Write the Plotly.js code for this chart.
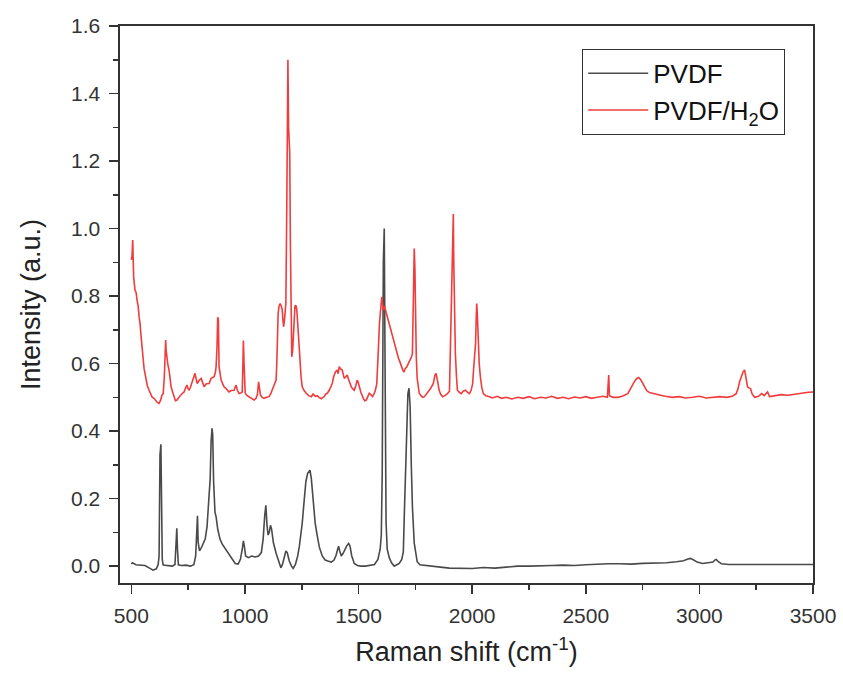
<!DOCTYPE html>
<html>
<head>
<meta charset="utf-8">
<script src="https://cdn.plot.ly/plotly-3.0.1.min.js"></script>
<style>html,body{margin:0;padding:0;background:#fff;}#chart{width:843px;height:675px;}</style>
</head>
<body>
<div id="chart"></div>
<script>
const pvdfX = [500,505,520,540,560,580,595,610,618,622,626,630,633,636,640,660,680,692,696,700,703,707,720,740,760,775,783,788,791,794,800,807,815,825,833,840,847,851,855,858,862,868,873,880,890,900,915,930,945,957,970,980,988,993,997,1003,1015,1030,1045,1060,1072,1080,1087,1092,1097,1102,1107,1112,1117,1125,1137,1150,1158,1165,1172,1180,1186,1195,1205,1212,1222,1232,1239,1246,1252,1260,1268,1276,1282,1286,1292,1300,1309,1318,1327,1340,1353,1365,1380,1392,1400,1408,1412,1417,1424,1432,1440,1448,1456,1462,1470,1481,1495,1510,1530,1550,1570,1585,1595,1600,1604,1609,1613,1617,1621,1626,1635,1645,1657,1668,1679,1690,1697,1701,1706,1712,1717,1722,1727,1732,1737,1745,1752,1758,1770,1790,1820,1860,1900,1950,2000,2050,2100,2150,2200,2250,2300,2350,2400,2450,2500,2550,2600,2650,2700,2750,2800,2855,2900,2930,2950,2960,2975,2990,3014,3040,3060,3068,3074,3082,3097,3130,3200,3300,3400,3500];
const pvdfY = [0.006,0.01,0.004,0.003,0.002,-0.006,-0.012,-0.008,0.005,0.03,0.33,0.361,0.2,0.02,0.003,0.002,0.0,0.005,0.09,0.112,0.05,0.004,0.002,0.003,0.0,0.004,0.03,0.14,0.149,0.07,0.045,0.053,0.065,0.08,0.116,0.19,0.26,0.37,0.408,0.39,0.25,0.16,0.146,0.11,0.08,0.065,0.05,0.038,0.02,0.008,0.006,0.02,0.05,0.075,0.06,0.03,0.025,0.03,0.027,0.03,0.04,0.08,0.15,0.18,0.12,0.092,0.10,0.121,0.11,0.07,0.038,0.01,-0.005,0.005,0.025,0.045,0.04,0.015,0.0,-0.007,0.005,0.03,0.057,0.09,0.127,0.19,0.25,0.275,0.283,0.284,0.26,0.19,0.127,0.09,0.057,0.03,0.018,0.015,0.012,0.018,0.03,0.05,0.059,0.045,0.03,0.038,0.05,0.06,0.067,0.06,0.03,0.008,0.002,0.0,0.0,0.002,0.005,0.02,0.05,0.092,0.27,0.9,1.0,0.55,0.13,0.05,0.025,0.01,0.0,0.004,0.008,0.02,0.042,0.145,0.284,0.45,0.51,0.527,0.47,0.3,0.176,0.068,0.03,0.013,0.004,0.002,0.001,-0.003,-0.006,-0.007,-0.007,-0.004,-0.006,-0.003,0.0,0.0,0.002,0.002,0.003,0.002,0.004,0.006,0.007,0.007,0.006,0.008,0.008,0.01,0.013,0.016,0.021,0.023,0.018,0.012,0.008,0.009,0.012,0.018,0.02,0.014,0.007,0.005,0.005,0.006,0.005,0.005];

const h2oX = [500,503,506,508,510,516,521,525,530,534,538,543,547,551,556,560,565,570,578,585,592,600,607,614,622,628,635,640,645,649,651,653,655,660,666,670,675,682,688,694,701,708,715,722,732,740,745,750,754,760,768,775,780,785,790,798,807,813,820,830,842,851,858,864,870,873,877,880,883,886,890,895,902,908,918,930,940,952,957,961,967,974,982,988,991,993,996,1001,1010,1018,1028,1040,1049,1055,1060,1063,1068,1076,1084,1095,1106,1113,1120,1128,1134,1137,1140,1142,1146,1150,1155,1160,1164,1167,1170,1174,1177,1180,1184,1189,1192,1197,1200,1203,1206,1210,1215,1220,1224,1228,1232,1236,1239,1243,1247,1252,1260,1270,1280,1292,1300,1310,1318,1326,1336,1343,1349,1356,1362,1371,1378,1384,1390,1398,1406,1410,1415,1420,1428,1433,1437,1443,1450,1455,1459,1468,1475,1481,1488,1494,1498,1503,1510,1521,1527,1534,1540,1547,1554,1561,1568,1574,1580,1583,1587,1592,1596,1599,1602,1606,1609,1614,1618,1622,1627,1633,1640,1645,1649,1655,1662,1667,1671,1676,1682,1689,1695,1700,1705,1712,1720,1728,1733,1737,1741,1745,1748,1750,1754,1758,1762,1767,1775,1782,1790,1800,1811,1820,1829,1836,1841,1847,1855,1862,1870,1880,1890,1900,1904,1909,1913,1917,1919,1922,1926,1931,1935,1943,1952,1960,1970,1980,1988,1995,2002,2006,2011,2015,2018,2020,2023,2027,2031,2036,2042,2049,2060,2076,2090,2110,2130,2150,2175,2200,2225,2250,2275,2300,2325,2350,2375,2400,2425,2450,2475,2500,2525,2550,2575,2595,2598,2601,2604,2620,2641,2660,2685,2701,2715,2725,2733,2742,2750,2758,2768,2780,2800,2824,2850,2880,2910,2940,2970,3000,3030,3058,3090,3120,3145,3162,3170,3177,3185,3192,3199,3205,3212,3218,3225,3232,3243,3260,3274,3285,3300,3309,3330,3360,3390,3420,3450,3480,3500];
const h2oY = [0.907,0.92,0.966,0.93,0.857,0.818,0.81,0.788,0.77,0.739,0.72,0.679,0.65,0.61,0.585,0.571,0.55,0.535,0.521,0.51,0.5,0.497,0.49,0.485,0.482,0.49,0.507,0.51,0.56,0.64,0.67,0.64,0.62,0.6,0.58,0.56,0.531,0.515,0.502,0.49,0.492,0.5,0.505,0.51,0.516,0.53,0.536,0.525,0.521,0.53,0.545,0.56,0.571,0.555,0.541,0.55,0.556,0.545,0.531,0.54,0.541,0.556,0.56,0.561,0.575,0.591,0.65,0.737,0.73,0.591,0.57,0.551,0.54,0.531,0.525,0.516,0.52,0.521,0.53,0.536,0.52,0.511,0.513,0.516,0.6,0.668,0.6,0.512,0.505,0.502,0.497,0.492,0.497,0.51,0.546,0.535,0.507,0.5,0.497,0.5,0.502,0.51,0.521,0.536,0.545,0.551,0.6,0.67,0.749,0.77,0.778,0.77,0.759,0.73,0.709,0.73,0.749,0.779,1.06,1.5,1.3,1.223,0.95,0.729,0.62,0.64,0.7,0.77,0.773,0.76,0.72,0.68,0.65,0.581,0.56,0.531,0.52,0.512,0.505,0.502,0.51,0.503,0.505,0.5,0.496,0.5,0.502,0.51,0.512,0.521,0.53,0.541,0.56,0.575,0.581,0.57,0.591,0.585,0.581,0.565,0.556,0.56,0.566,0.555,0.546,0.531,0.525,0.521,0.535,0.551,0.545,0.531,0.515,0.497,0.49,0.492,0.5,0.512,0.508,0.502,0.51,0.521,0.54,0.571,0.64,0.72,0.759,0.785,0.798,0.775,0.759,0.77,0.76,0.75,0.739,0.725,0.709,0.695,0.679,0.665,0.65,0.64,0.63,0.615,0.605,0.59,0.58,0.575,0.585,0.59,0.6,0.61,0.62,0.63,0.887,0.941,0.88,0.719,0.62,0.556,0.53,0.512,0.505,0.5,0.502,0.51,0.521,0.53,0.541,0.565,0.571,0.55,0.52,0.508,0.502,0.505,0.51,0.518,0.63,0.8,0.927,1.043,0.9,0.768,0.63,0.56,0.521,0.515,0.511,0.518,0.521,0.515,0.511,0.52,0.54,0.581,0.62,0.66,0.74,0.778,0.74,0.66,0.6,0.561,0.53,0.511,0.505,0.502,0.498,0.503,0.497,0.5,0.495,0.5,0.497,0.502,0.496,0.5,0.498,0.503,0.497,0.5,0.496,0.501,0.498,0.502,0.497,0.5,0.503,0.5,0.566,0.566,0.505,0.5,0.5,0.503,0.511,0.531,0.548,0.556,0.559,0.552,0.542,0.531,0.52,0.514,0.51,0.507,0.503,0.5,0.502,0.498,0.5,0.503,0.498,0.5,0.502,0.5,0.503,0.511,0.525,0.546,0.565,0.575,0.581,0.56,0.531,0.528,0.526,0.51,0.5,0.503,0.511,0.505,0.516,0.502,0.505,0.508,0.506,0.51,0.512,0.515,0.516];

const seriesNames = ['PVDF', 'PVDF/H<sub>2</sub>O'];
const xTitle = 'Raman shift (cm<sup>-1</sup>)';
const yTitle = 'Intensity (a.u.)';

const FONT = 'Arial, "Liberation Sans", sans-serif';
const traces = [
  {x: pvdfX, y: pvdfY, name: seriesNames[0], type: 'scatter', mode: 'lines',
   line: {color: '#4a4a4a', width: 1.6}},
  {x: h2oX, y: h2oY, name: seriesNames[1], type: 'scatter', mode: 'lines',
   line: {color: '#f03c3c', width: 1.6}}
];
const axisCommon = {
  showline: true, linecolor: '#333', linewidth: 1.6, mirror: true,
  ticks: 'outside', ticklen: 9, tickwidth: 1.5, tickcolor: '#333',
  showgrid: false, zeroline: false,
  tickfont: {family: FONT, size: 21, color: '#333'}
};
const layout = {
  width: 843, height: 675,
  margin: {l: 120, r: 30, t: 26, b: 92},
  paper_bgcolor: '#fff', plot_bgcolor: '#fff',
  font: {family: FONT, color: '#222'},
  showlegend: true,
  xaxis: Object.assign({}, axisCommon, {
    range: [450, 3500], tick0: 500, dtick: 500,
    minor: {ticks: 'outside', ticklen: 5, tickwidth: 1.5, tickcolor: '#333', dtick: 250, tick0: 500, showgrid: false},
    ticklabelstandoff: 4,
    title: {text: xTitle, font: {family: FONT, size: 27, color: '#222'}, standoff: 16}
  }),
  yaxis: Object.assign({}, axisCommon, {
    range: [-0.05, 1.6], tick0: 0, dtick: 0.2, tickformat: '.1f',
    minor: {ticks: 'outside', ticklen: 5, tickwidth: 1.5, tickcolor: '#333', dtick: 0.1, showgrid: false},
    ticklabelstandoff: 5,
    title: {text: yTitle, font: {family: FONT, size: 27, color: '#222'}, standoff: 22}
  }),
  legend: {
    x: 0.667, y: 0.959, xanchor: 'left', yanchor: 'top',
    bordercolor: '#333', borderwidth: 1, bgcolor: '#fff',
    font: {family: FONT, size: 26, color: '#111'},
    tracegroupgap: 0, itemwidth: 60
  }
};
Plotly.newPlot('chart', traces, layout, {displayModeBar: false, staticPlot: true});
</script>
</body>
</html>
